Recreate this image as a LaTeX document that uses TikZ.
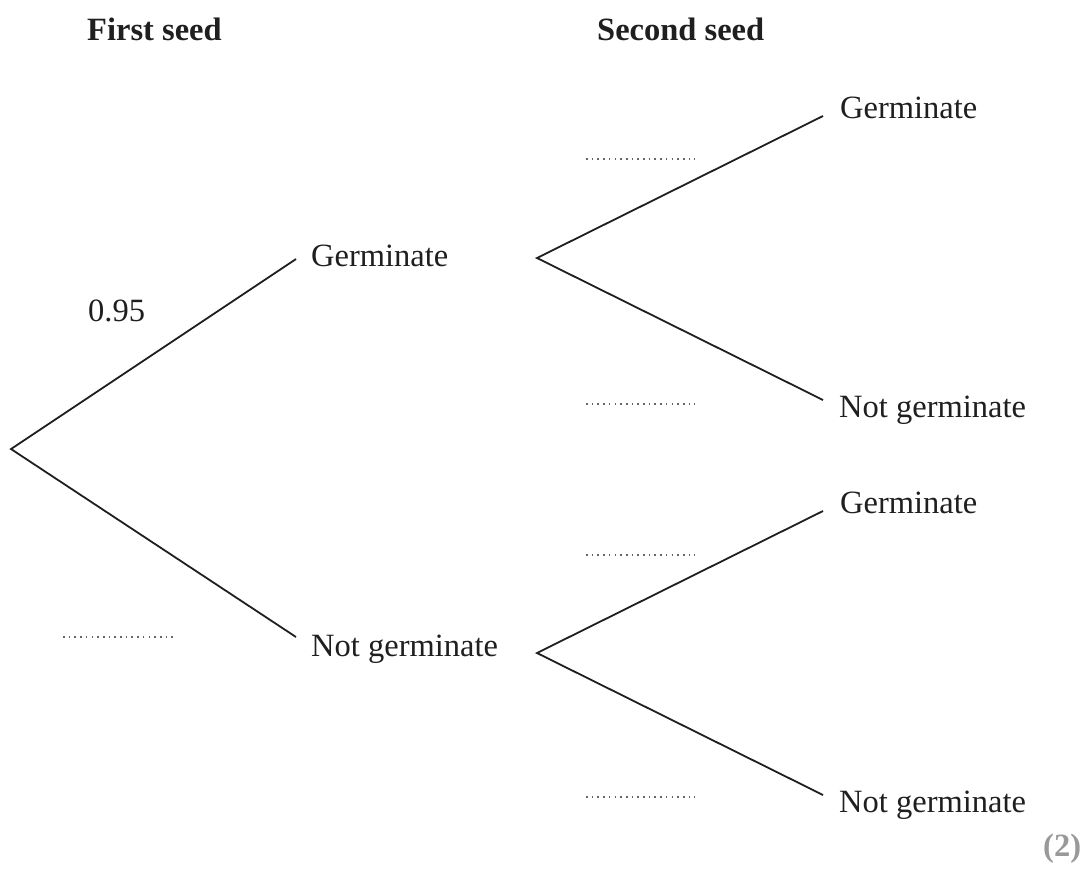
\documentclass[tikz,border=0pt]{standalone}
\usepackage{fontspec}
\setmainfont{Liberation Serif}
\begin{document}
\begin{tikzpicture}[x=1pt,y=-1pt,
  lbl/.style={inner sep=0pt,anchor=base west,font=\fontsize{32.5}{39}\selectfont,text=black!88},
  hdr/.style={lbl,font=\fontsize{32.5}{39}\selectfont\bfseries},
  branch/.style={line width=1.8pt,black!88},
  blank/.style={line width=1.6pt,black!60,dash pattern=on 1.6pt off 4.1pt}]
\useasboundingbox (0,0) rectangle (1087,876);
% headers
\node[hdr] (h1) at (87,40.5) {First seed};
\node[hdr] (h2) at (597,40.5) {Second seed};
% outcome labels
\node[lbl] (g1) at (311,266.5) {Germinate};
\node[lbl] (n1) at (311,656.5) {Not germinate};
\node[lbl] (gg) at (840,118) {Germinate};
\node[lbl] (gn) at (839,417) {Not germinate};
\node[lbl] (ng) at (840,513) {Germinate};
\node[lbl] (nn) at (839,812) {Not germinate};
\node[lbl] (p) at (88,321.5) {0.95};
\node[inner sep=0pt,anchor=base west,font=\fontsize{32.5}{39}\selectfont\bfseries,text=black!40] (marks) at (1043,856) {(2)};
% branch points
\coordinate (root) at (11,449);
\coordinate (g1in) at (296,259);
\coordinate (n1in) at (296,637);
\coordinate (g1out) at (537,258);
\coordinate (n1out) at (537,653);
\coordinate (ggin) at (823,116);
\coordinate (gnin) at (823,400);
\coordinate (ngin) at (823,511);
\coordinate (nnin) at (823,795);
\draw[branch] (g1in) -- (root) -- (n1in);
\draw[branch] (ggin) -- (g1out) -- (gnin);
\draw[branch] (ngin) -- (n1out) -- (nnin);
% blanks
\coordinate (b1a) at (586,159); \coordinate (b1b) at (695,159);
\coordinate (b2a) at (586,404); \coordinate (b2b) at (695,404);
\coordinate (b3a) at (586,555); \coordinate (b3b) at (695,555);
\coordinate (b4a) at (586,797); \coordinate (b4b) at (695,797);
\coordinate (b5a) at (63,637);  \coordinate (b5b) at (173,637);
\draw[blank] (b1a) -- (b1b);
\draw[blank] (b2a) -- (b2b);
\draw[blank] (b3a) -- (b3b);
\draw[blank] (b4a) -- (b4b);
\draw[blank] (b5a) -- (b5b);
\end{tikzpicture}
\end{document}
